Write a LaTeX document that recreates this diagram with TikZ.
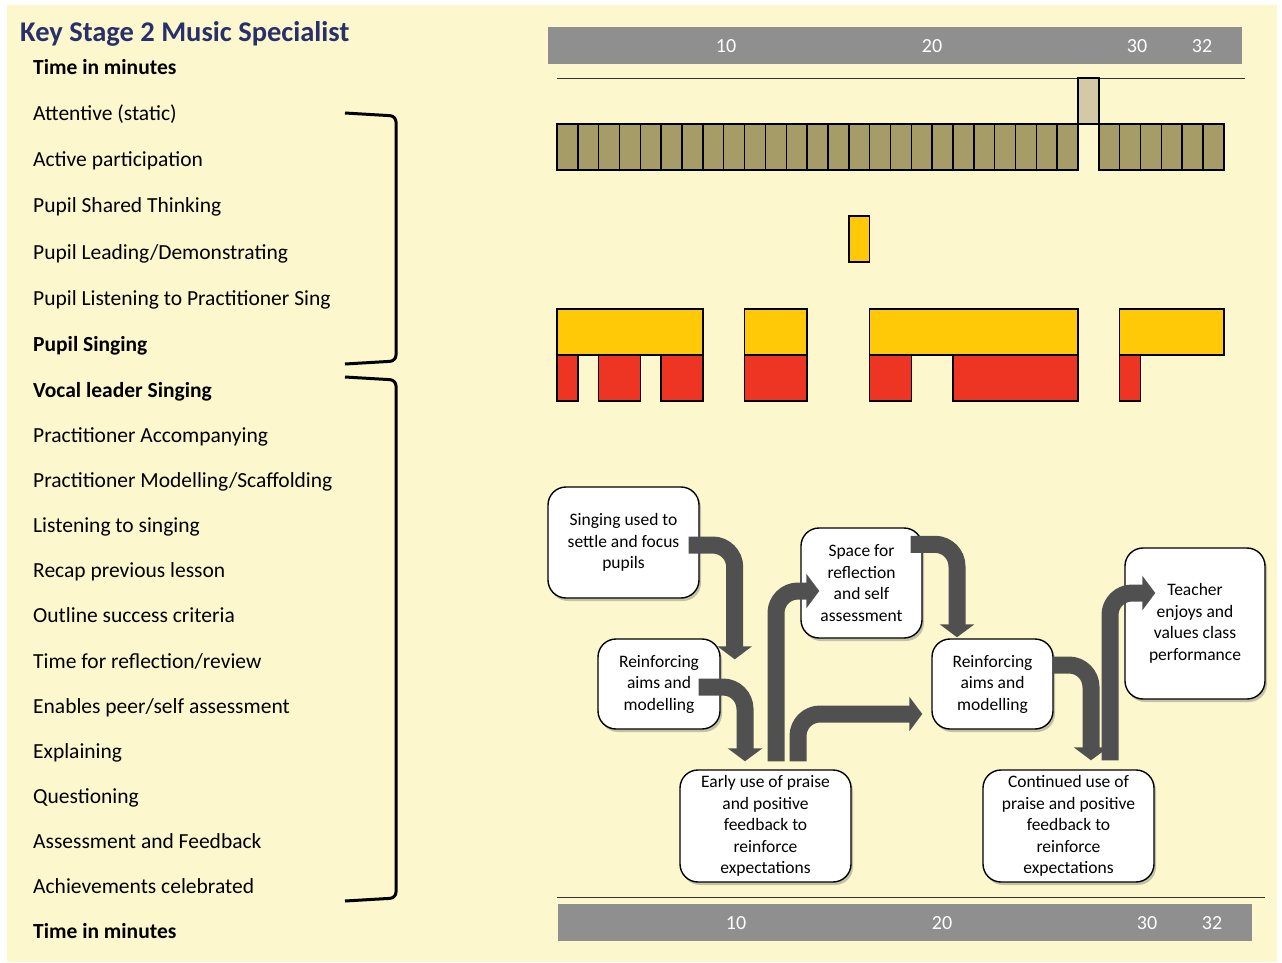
\documentclass[tikz,border=0pt]{standalone}
\usepackage{fontspec}
\setmainfont{Carlito}
\usetikzlibrary{arrows.meta,calc,shadows}
\definecolor{bgyellow}{HTML}{FCF7CC}
\definecolor{bargrey}{HTML}{8F8F8F}
\definecolor{olive}{HTML}{A69C67}
\definecolor{beige}{HTML}{D3C9A6}
\definecolor{gold}{HTML}{FFC907}
\definecolor{redbar}{HTML}{EE3524}
\definecolor{arrowgrey}{HTML}{505050}
\definecolor{titleblue}{HTML}{27306B}
\begin{document}
\begin{tikzpicture}[x=1pt, y=-1pt,
  lab/.style={anchor=base west, inner sep=0pt, font=\fontsize{21.5}{25}\selectfont},
  tick/.style={text=white, font=\fontsize{20}{24}\selectfont},
  slot/.style={draw=black, line width=1.5pt},
  box/.style={draw=black, fill=white, line width=1.4pt, rounded corners=18pt, align=center, inner sep=0pt, font=\fontsize{17.5}{21.5}\selectfont, drop shadow={shadow xshift=2pt, shadow yshift=-3pt, opacity=0.45}},
  bigarrow/.style={draw=arrowgrey, line width=17pt, rounded corners=22pt, -{Triangle[width=34pt,length=13pt]}},
  brace/.style={line width=3pt, rounded corners=6pt}]
\useasboundingbox (0,0) rectangle (1282,962);
\fill[bgyellow] (7,5) rectangle (1277,962);

\node[anchor=base west, inner sep=0pt, text=titleblue, font=\fontsize{28.5}{32}\selectfont\bfseries] (title) at (20,41) {Key Stage 2 Music Specialist};
\foreach \y/\t in {67/Time in minutes, 344/Pupil Singing, 390/Vocal leader Singing, 931/Time in minutes}
\node[lab, font=\fontsize{21.5}{25}\selectfont\bfseries] (b\y) at (33,\y+7) {\t};
\foreach \y/\t in {113/Attentive (static), 159/Active participation, 205/Pupil Shared Thinking, 252/{Pupil Leading/Demonstrating}, 298/Pupil Listening to Practitioner Sing, 435/Practitioner Accompanying, 480/{Practitioner Modelling/Scaffolding}, 525/Listening to singing, 570/Recap previous lesson, 615/Outline success criteria, 661/{Time for reflection/review}, 706/{Enables peer/self assessment}, 751/Explaining, 796/Questioning, 841/Assessment and Feedback, 886/Achievements celebrated}
\node[lab] (l\y) at (33,\y+7) {\t};

\draw[brace] (345,113) -- (396,116) -- (396,361) -- (345,364);
\draw[brace] (345,377) -- (396,380) -- (396,898) -- (345,901);

\fill[bargrey] (548,27) rectangle (1242,64);
\foreach \x/\m in {726/10, 932/20, 1137/30, 1202/32}
\node[tick] (t\m) at (\x,46) {\m};
\fill[bargrey] (558,904) rectangle (1252,941);
\foreach \x/\m in {736/10, 942/20, 1147/30, 1212/32}
\node[tick] (u\m) at (\x,923) {\m};
\draw[thick, black!80] (557,78) -- (1245,78);
\draw[thick, black!80] (557,897) -- (1265,897);

\foreach \i in {0,...,24}
\filldraw[slot, fill=olive] ({557+\i*20.84},124) rectangle ({557+(\i+1)*20.84},170);
\foreach \i in {26,...,31}
\filldraw[slot, fill=olive] ({557+\i*20.84},124) rectangle ({557+(\i+1)*20.84},170);
\filldraw[slot, fill=beige] ({557+25*20.84},78) rectangle ({557+26*20.84},124);
\filldraw[slot, fill=gold] ({557+14*20.84},216) rectangle ({557+15*20.84},262);
\foreach \a/\b in {0/7, 9/12, 15/25, 27/32}
\filldraw[slot, fill=gold] ({557+\a*20.84},309) rectangle ({557+\b*20.84},355);
\foreach \a/\b in {0/1, 2/4, 5/7, 9/12, 15/17, 19/25, 27/28}
\filldraw[slot, fill=redbar] ({557+\a*20.84},355) rectangle ({557+\b*20.84},401);

\node[box, minimum width=151pt, minimum height=111pt] (sing) at (623.5,542.5) {Singing used to\\settle and focus\\pupils};
\node[box, minimum width=122pt, minimum height=90pt] (reinA) at (659,684) {Reinforcing\\aims and\\modelling};
\node[box, minimum width=121pt, minimum height=110pt] (space) at (861.5,583) {Space for\\reflection\\and self\\assessment};
\node[box, minimum width=171pt, minimum height=112pt] (early) at (765.5,826) {Early use of praise\\and positive\\feedback to\\reinforce\\expectations};
\node[box, minimum width=121pt, minimum height=90pt] (reinB) at (992.5,684) {Reinforcing\\aims and\\modelling};
\node[box, minimum width=140pt, minimum height=151pt] (teacher) at (1195,623.5) {Teacher\\enjoys and\\values class\\performance};
\node[box, minimum width=171pt, minimum height=112pt] (cont) at (1068.5,826) {Continued use of\\praise and positive\\feedback to\\reinforce\\expectations};

\draw[bigarrow] ($(sing.east)+(-11,2.5)$) -| ($(reinA.north east)+(14,21)$);
\draw[bigarrow] ($(reinA.east)+(-22,3)$) -| ($(early.north)+(-20.5,-8)$);
\draw[bigarrow] ($(early.north)+(10.5,-8)$) |- ($(space.west)+(19,8)$);
\draw[bigarrow] ($(early.north)+(32.5,-8)$) |- ($(reinB.west)+(-9,30)$);
\draw[bigarrow] ($(space.north east)+(-12,17)$) -| ($(reinB.north)+(-35.5,-1)$);
\draw[bigarrow] ($(reinB.east)+(-1,-19)$) -| ($(cont.north)+(22.5,-9)$);
\draw[bigarrow] ($(cont.north)+(41.5,-9)$) |- ($(teacher.west)+(31,-30.5)$);
\end{tikzpicture}
\end{document}
